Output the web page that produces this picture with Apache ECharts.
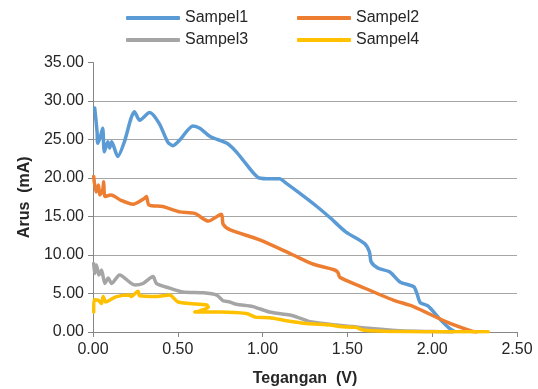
<!DOCTYPE html>
<html><head><meta charset="utf-8">
<script src="https://cdn.jsdelivr.net/npm/echarts@6/dist/echarts.min.js"></script>
<style>html,body{margin:0;padding:0;background:#fff}#c{width:538px;height:389px}</style>
</head><body><div id="c"></div>
<script>
var seriesNames = ['Sampel1','Sampel2','Sampel3','Sampel4'];
var xTicks = [0,0.5,1,1.5,2,2.5];
var yTicks = [0,5,10,15,20,25,30,35];

var x1 = [0.01,0.024,0.028,0.044,0.057,0.067,0.087,0.098,0.11,0.146,0.185,0.224,0.244,0.275,0.334,0.39,0.44,0.47,0.51,0.59,0.63,0.69,0.79,0.845,0.90,0.98,1.05,1.10,1.14,1.22,1.32,1.40,1.49,1.60,1.63,1.64,1.68,1.75,1.81,1.89,1.91,1.93,1.975,2.04,2.10,2.13];
var y1 = [29.1,26.0,24.5,25.4,26.45,23.4,24.7,23.9,24.7,22.8,24.7,27.75,28.6,27.5,28.5,27.1,24.7,24.2,24.9,26.75,26.45,25.4,24.5,23.4,21.9,20.0,19.9,19.9,19.3,18.0,16.3,14.8,13.0,11.5,10.4,9.1,8.3,7.8,6.5,5.9,5.0,3.8,3.4,1.8,0.5,0.1];

var x2 = [0.004,0.018,0.032,0.04,0.057,0.063,0.071,0.106,0.165,0.236,0.30,0.315,0.33,0.41,0.51,0.60,0.68,0.757,0.767,0.806,0.983,1.18,1.30,1.425,1.445,1.455,1.57,1.77,1.89,2.08,2.23,2.26];
var y2 = [20.2,18.2,19.1,17.8,18.4,19.5,17.6,17.8,17.1,16.6,17.3,17.6,16.5,16.3,15.6,15.4,14.4,15.3,14.0,13.3,11.95,10.0,8.8,8.05,7.7,7.1,6.0,4.15,3.3,1.35,0.13,0.0];

var x3 = [0.004,0.01,0.02,0.035,0.05,0.07,0.09,0.11,0.157,0.246,0.295,0.354,0.374,0.452,0.53,0.65,0.73,0.767,0.806,0.846,0.943,1.04,1.16,1.22,1.28,1.435,1.53,1.63,1.81,2.0,2.12];
var y3 = [8.9,7.6,8.7,7.4,8.05,6.3,7.0,6.3,7.4,6.1,6.3,7.2,6.3,5.7,5.2,5.1,4.8,4.05,3.9,3.6,3.3,2.6,2.2,1.8,1.35,0.9,0.7,0.48,0.17,0.05,0.0];

var x4 = [0.004,0.005,0.03,0.05,0.06,0.075,0.1,0.138,0.216,0.226,0.265,0.275,0.374,0.452,0.50,0.57,0.67,0.68,0.63,0.60,0.75,0.904,0.963,1.04,1.14,1.26,1.40,1.455,1.55,1.59,1.81,2.02,2.33];
var y4 = [2.6,4.2,4.15,3.7,4.6,3.9,4.15,4.6,4.8,4.6,5.3,4.7,4.6,4.8,3.9,3.7,3.5,3.2,2.75,2.6,2.6,2.4,1.9,1.86,1.47,1.1,0.9,0.7,0.6,0.26,0.05,0.04,0.02];

var colors = ['#5B9BD5','#ED7D31','#A5A5A5','#FFC000'];
var xs = [x1,x2,x3,x4], ys = [y1,y2,y3,y4];
function pairs(xa, ya){ return xa.map(function(v,i){ return [v, ya[i]]; }); }

var FONT = 'Liberation Sans';
var TXT = '#262626';
var legendPos = [[126,10],[297,10],[126,32],[297,32]];
var legends = seriesNames.map(function(n,i){
  return {
    data:[n], left:legendPos[i][0], top:legendPos[i][1], orient:'horizontal',
    icon:'roundRect', itemWidth:54, itemHeight:4, itemGap:6, padding:0,
    textStyle:{fontFamily:FONT,fontSize:16,color:TXT}
  };
});

var chart = echarts.init(document.getElementById('c'), null, {renderer:'canvas'});
chart.setOption({
  animation:false,
  color:colors,
  legend:legends,
  grid:{left:93,right:21,top:62.5,bottom:57,containLabel:false,outerBoundsMode:'none'},
  xAxis:{
    type:'value', min:0, max:2.5, interval:0.5,
    axisLine:{show:true,lineStyle:{color:'#868686',width:1}},
    axisTick:{show:true,length:5,lineStyle:{color:'#868686'}},
    splitLine:{show:false},
    axisLabel:{fontFamily:FONT,fontSize:16,color:TXT,margin:10,formatter:function(v){return v.toFixed(2);}},
    name:'Tegangan  (V)', nameLocation:'middle', nameGap:39,
    nameTextStyle:{fontFamily:FONT,fontSize:16,fontWeight:'bold',color:TXT}
  },
  yAxis:{
    type:'value', min:0, max:35, interval:5,
    axisLine:{show:true,lineStyle:{color:'#868686',width:1}},
    axisTick:{show:true,length:5,lineStyle:{color:'#868686'}},
    splitLine:{show:true,showMaxLine:false,showMinLine:false,lineStyle:{color:'#A6A6A6',width:1}},
    axisLabel:{fontFamily:FONT,fontSize:16,color:TXT,margin:9,formatter:function(v){return v.toFixed(2);}},
    name:'Arus  (mA)', nameLocation:'middle', nameGap:56,
    nameTextStyle:{fontFamily:FONT,fontSize:16,fontWeight:'bold',color:TXT}
  },
  series: seriesNames.map(function(n,i){
    return {
      name:n, type:'line', data:pairs(xs[i],ys[i]), showSymbol:false, symbol:'none',
      smooth:0.25, lineStyle:{width:3.5,color:colors[i],cap:'round',join:'round'},
      itemStyle:{color:colors[i]}
    };
  })
});
</script></body></html>
